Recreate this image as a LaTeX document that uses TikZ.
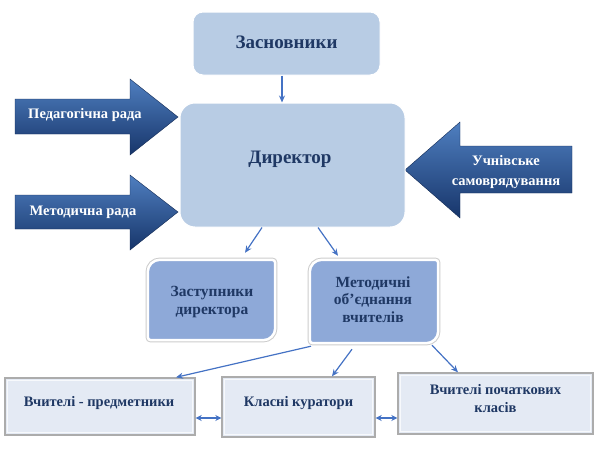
\documentclass[tikz,border=0pt]{standalone}
\usepackage{fontspec}
\setmainfont{Liberation Serif}
\usetikzlibrary{arrows.meta,shadows}
\definecolor{lightbox}{HTML}{B8CCE4}
\definecolor{midbox}{HTML}{8EA9D8}
\definecolor{lowbox}{HTML}{E4EAF4}
\definecolor{navytext}{HTML}{1F3864}
\definecolor{conn}{HTML}{4472C4}
\definecolor{arrdark}{HTML}{17356A}
\definecolor{arrlight}{HTML}{4F7FC0}
\begin{document}
\begin{tikzpicture}[x=1pt,y=-1pt,
  topbox/.style={rounded corners=10pt, fill=lightbox, draw=white, line width=1pt},
  boxtext/.style={font=\bfseries\fontsize{19}{21}\selectfont, text=navytext, align=center},
  midtext/.style={font=\bfseries\fontsize{15.5}{17.5}\selectfont, text=navytext, align=center},
  lowtext/.style={font=\bfseries\fontsize{14.5}{18}\selectfont, text=navytext, align=center},
  shapenode/.style={draw=none, fill=none, inner sep=0pt},
  midrim/.style={draw=gray!40, line width=4.5pt},
  midfill/.style={fill=midbox, draw=white, line width=2.5pt},
  lowboxst/.style={fill=lowbox, draw=gray!65, line width=1.4pt},
  lowinner/.style={draw=white!70!lowbox, line width=0.8pt},
  bigarrow/.style={top color=arrlight, bottom color=arrdark, draw=arrdark!80!black, line width=0.4pt},
  arrtext/.style={font=\bfseries\fontsize{14.5}{20}\selectfont, text=white, align=center},
  conline/.style={draw=conn, line width=1.2pt, -{Stealth[length=7pt,width=6pt]}},
  dblline/.style={draw=conn, line width=1.2pt, {Stealth[length=6pt,width=6pt]}-{Stealth[length=6pt,width=6pt]}}
]
\useasboundingbox (0,0) rectangle (602,450);

% big arrows
\path[bigarrow] (15,99) -- (130,99) -- (130,79) -- (178,117) -- (130,155) -- (130,134) -- (15,134) -- cycle;
\node[arrtext] (ped) at (85,115) {Педагогічна рада};
\path[bigarrow] (15,195) -- (130,195) -- (130,175) -- (178,212) -- (130,250) -- (130,229) -- (15,229) -- cycle;
\node[arrtext] (met) at (83,212) {Методична рада};
\path[bigarrow] (572,146) -- (460,146) -- (460,122) -- (405,170) -- (460,218) -- (460,193) -- (572,193) -- cycle;
\node[arrtext] (uchn) at (506,172) {Учнівське\\самоврядування};

% top boxes
\node[topbox, minimum width=187pt, minimum height=63pt] (zasn) at (286.5,43.5) {};
\node[boxtext] (zasnt) at (286.5,42) {Засновники};
\node[topbox, rounded corners=15pt, minimum width=225pt, minimum height=124pt] (dir) at (292.5,165) {};
\node[boxtext] (dirt) at (290,159) {Директор};

% middle boxes
\node[shapenode, minimum width=127pt, minimum height=80pt] (zast) at (211.5,300) {};
\path[midrim] (zast.west) [rounded corners=12pt] |- (zast.north) [rounded corners=3pt] -| (zast.east) [rounded corners=12pt] |- (zast.south) [rounded corners=3pt] -| (zast.west) -- cycle;
\path[midfill] (zast.west) [rounded corners=12pt] |- (zast.north) [rounded corners=3pt] -| (zast.east) [rounded corners=12pt] |- (zast.south) [rounded corners=3pt] -| (zast.west) -- cycle;
\node[midtext] (zastt) at (212,302) {Заступники\\директора};

\node[shapenode, minimum width=128pt, minimum height=83pt] (mob) at (374,301.5) {};
\path[midrim] (mob.west) [rounded corners=12pt] |- (mob.north) [rounded corners=3pt] -| (mob.east) [rounded corners=12pt] |- (mob.south) [rounded corners=3pt] -| (mob.west) -- cycle;
\path[midfill] (mob.west) [rounded corners=12pt] |- (mob.north) [rounded corners=3pt] -| (mob.east) [rounded corners=12pt] |- (mob.south) [rounded corners=3pt] -| (mob.west) -- cycle;
\node[midtext] (mobt) at (373,299.5) {Методичні\\об’єднання\\вчителів};

% bottom boxes
\node[lowboxst, minimum width=190pt, minimum height=57pt] (b1) at (100,406.5) {};
\draw[lowinner] ([shift={(3pt,-3pt)}]b1.north west) rectangle ([shift={(-3pt,3pt)}]b1.south east);
\node[lowtext] (b1t) at (99,403) {Вчителі - предметники};
\node[lowboxst, minimum width=153pt, minimum height=60pt] (b2) at (298.5,407) {};
\draw[lowinner] ([shift={(3pt,-3pt)}]b2.north west) rectangle ([shift={(-3pt,3pt)}]b2.south east);
\node[lowtext] (b2t) at (298.5,403) {Класні куратори};
\node[lowboxst, minimum width=195pt, minimum height=61pt] (b3) at (495.5,403.5) {};
\draw[lowinner] ([shift={(3pt,-3pt)}]b3.north west) rectangle ([shift={(-3pt,3pt)}]b3.south east);
\node[lowtext] (b3t) at (495.5,399) {Вчителі початкових\\класів};

% connectors
\draw[conline] (zasn.south -| 282,0) -- (dir.north -| 282,0);
\draw[conline] ([xshift=-30.5pt]dir.south) -- ([xshift=33.5pt,yshift=7pt]zast.north);
\draw[conline] ([xshift=25.5pt]dir.south) -- ([xshift=-36pt,yshift=4pt]mob.north);
\draw[conline] ([xshift=-63pt,yshift=-3pt]mob.south) -- ([xshift=76pt]b1.north);
\draw[conline] ([xshift=-22pt,yshift=-6pt]mob.south) -- ([xshift=33.5pt]b2.north);
\draw[conline] ([xshift=58pt,yshift=-2pt]mob.south) -- ([xshift=-37.5pt]b3.north);
\draw[dblline] ([yshift=-11.5pt]b1.east) -- ([yshift=-11pt]b2.west);
\draw[dblline] ([yshift=-11pt]b2.east) -- ([yshift=-14.5pt]b3.west);
\end{tikzpicture}
\end{document}
